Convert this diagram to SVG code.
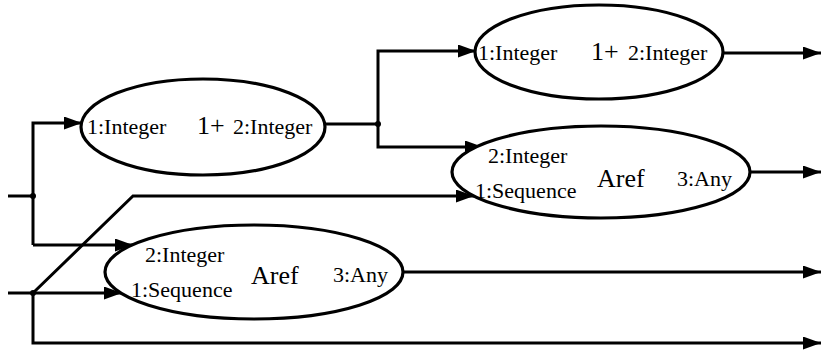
<svg xmlns="http://www.w3.org/2000/svg" width="821" height="352" viewBox="0 0 821 352">
<style>
.node ellipse{fill:#fff;stroke:#000;stroke-width:3.2}
.port{font-family:"Liberation Serif","Times New Roman",serif;font-size:22px;fill:#000}
.op{font-family:"Liberation Serif","Times New Roman",serif;font-size:26px;fill:#000}
.wire{fill:none;stroke:#000;stroke-width:3}
.arr{marker-end:url(#ah)}
</style>
<defs>
<marker id="ah" markerUnits="userSpaceOnUse" markerWidth="19" markerHeight="14" refX="18" refY="6.5" orient="auto">
<path d="M0,0 L18,6.5 L0,13 Z" fill="#000"/>
</marker>
</defs>
<rect width="821" height="352" fill="#fff"/>
<g id="connectors">
<path class="wire" d="M8,196 H33"/>
<path class="wire" d="M8,293 H33"/>
<path class="wire arr" d="M33,245 V123 H82"/>
<path class="wire arr" d="M33,245 H133"/>
<path class="wire arr" d="M33,293 H122"/>
<path class="wire arr" d="M33,293 L133,196 H474"/>
<path class="wire arr" d="M33,293 V343 H821"/>
<path class="wire" d="M325,124 H378"/>
<path class="wire arr" d="M378,124 V51 H476"/>
<path class="wire arr" d="M378,124 V147 H483"/>
<path class="wire arr" d="M723,53 H821"/>
<path class="wire arr" d="M750,172 H821"/>
<path class="wire arr" d="M403,272 H821"/>
<circle cx="33" cy="196" r="3" fill="#000"/>
<circle cx="33" cy="293" r="3" fill="#000"/>
<circle cx="378" cy="124" r="3" fill="#000"/>
</g>
<g id="inc1" class="node">
<ellipse cx="203" cy="127" rx="122" ry="48"/>
<text class="port" x="87" y="134">1:Integer</text>
<text class="op" x="197" y="134">1+</text>
<text class="port" x="233" y="134">2:Integer</text>
</g>
<g id="inc2" class="node">
<ellipse cx="599" cy="52" rx="124" ry="47"/>
<text class="port" x="478" y="60">1:Integer</text>
<text class="op" x="591" y="60">1+</text>
<text class="port" x="628" y="60">2:Integer</text>
</g>
<g id="aref1" class="node">
<ellipse cx="601" cy="172" rx="149" ry="46"/>
<text class="port" x="488" y="163">2:Integer</text>
<text class="port" x="475" y="198">1:Sequence</text>
<text class="op" x="597" y="187">Aref</text>
<text class="port" x="677" y="186">3:Any</text>
</g>
<g id="aref2" class="node">
<ellipse cx="254" cy="272" rx="149" ry="47"/>
<text class="port" x="145" y="262">2:Integer</text>
<text class="port" x="131" y="297">1:Sequence</text>
<text class="op" x="251" y="284">Aref</text>
<text class="port" x="333" y="282">3:Any</text>
</g>
</svg>
